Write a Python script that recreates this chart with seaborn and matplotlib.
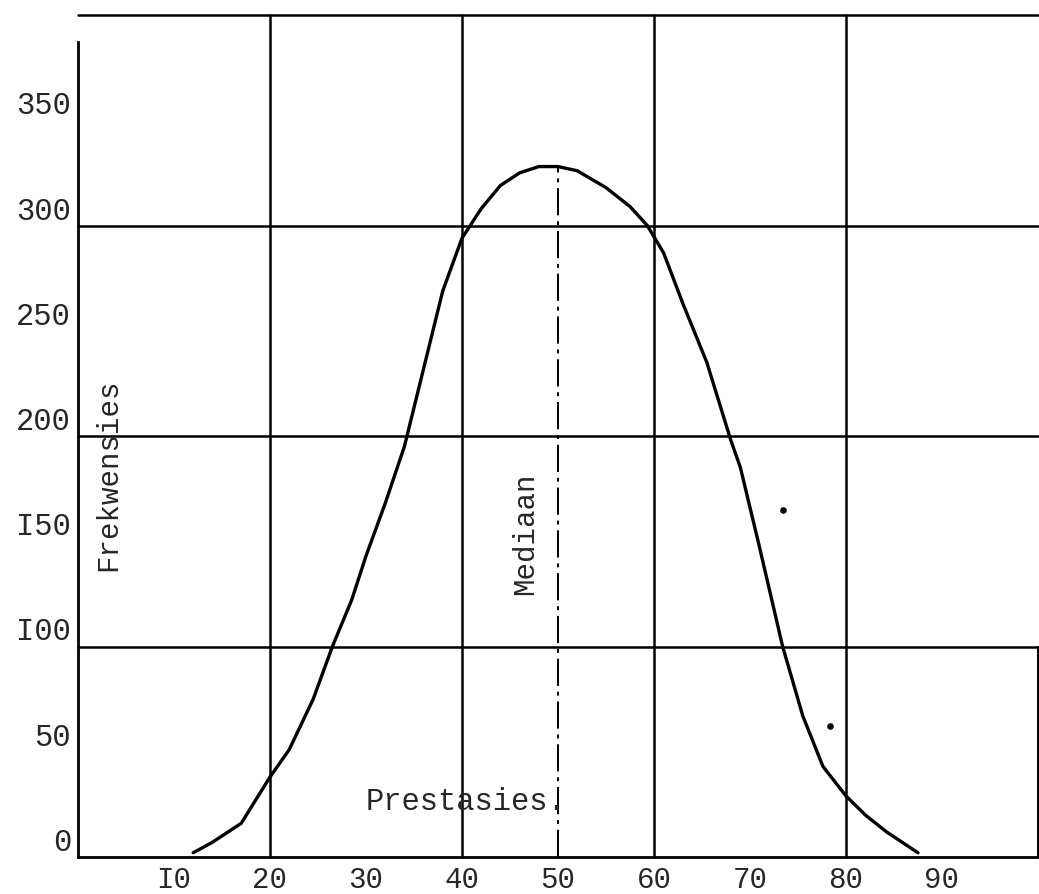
import matplotlib; matplotlib.use('Agg')
import matplotlib.pyplot as plt
import seaborn as sns
import pandas as pd

# curve (Prestasies vs Frekwensies)
prestasie = [12, 14, 17, 20, 22, 24.5, 26.5, 28.5, 30, 32, 34, 36, 38, 40, 41, 42, 44, 46, 48,
             50, 52, 55, 57.5, 59.3, 61, 63, 65.5, 68, 69, 71, 73.4, 75.5, 77.6, 80, 82, 84.2, 87.5]
frekwensie = [2, 7, 16, 38, 51, 75, 100, 122, 143, 168, 195, 232, 269, 294, 301, 308, 319, 325, 328,
              328, 326, 318, 309, 300, 287, 263, 235, 198, 185, 147, 100, 67, 43, 29, 20, 12, 2]
dots_x = [73.4, 78.3]
dots_y = [165, 62]
mediaan = 50
mediaan_top = 328

x_ticks = [10, 20, 30, 40, 50, 60, 70, 80, 90]
x_labels = ["I0", "20", "30", "40", "50", "60", "70", "80", "90"]
y_ticks = [0, 50, 100, 150, 200, 250, 300, 350]
y_labels = ["0", "50", "I00", "I50", "200", "250", "300", "350"]
h_grid = [100, 200, 300, 400]
v_grid = [20, 40, 60, 80]

df = pd.DataFrame({"Prestasies": prestasie, "Frekwensies": frekwensie})

sns.set_theme(style="white")
plt.rcParams['font.family'] = ['Liberation Mono', 'DejaVu Sans Mono']

fig = plt.figure(figsize=(10.39, 8.95), dpi=100)
ax = fig.add_axes([78 / 1039, 37 / 895, 960 / 1039, 842 / 895])

for v in h_grid:
    ax.axhline(v, color="black", lw=1.8, zorder=1, clip_on=False)
for v in v_grid:
    ax.plot([v, v], [0, 400], color="black", lw=1.8, zorder=1, clip_on=False)

# mediaan
ax.plot([mediaan, mediaan], [0, mediaan_top], color="black", lw=1.4,
        linestyle=(0, (14, 3, 2, 3)), zorder=1)

sns.lineplot(data=df, x="Prestasies", y="Frekwensies", ax=ax, color="black", lw=2.4,
             sort=False, zorder=3)
ax.scatter(dots_x, dots_y, s=14, color="black", zorder=3)

ax.set_xlim(0, 100)
ax.set_ylim(0, 400)
ax.set_xticks(x_ticks)
ax.set_xticklabels(x_labels, fontsize=21)
ax.set_yticks(y_ticks)
ax.set_yticklabels(y_labels, fontsize=22)
ax.tick_params(axis="x", direction="inout", length=12, width=1.6, pad=0, color="black")
ax.tick_params(axis="y", length=0, pad=5)
for lab in ax.get_yticklabels():
    lab.set_verticalalignment("bottom")
ax.set_xlabel("")
ax.set_ylabel("")

for side in ["left", "bottom", "right"]:
    ax.spines[side].set_color("black")
    ax.spines[side].set_linewidth(2)
ax.spines["top"].set_visible(False)
ax.spines["left"].set_bounds(0, 387)
ax.spines["right"].set_bounds(0, 100)
ax.spines["right"].set_linewidth(1.4)

ax.text(30, 23, "Prestasies.", fontsize=22, ha="left", va="baseline")
ax.text(3.1, 182, "Frekwensies", fontsize=21, rotation=90, ha="center", va="center")
ax.text(46.6, 154, "Mediaan", fontsize=21, rotation=90, ha="center", va="center")

fig.savefig("out.png", dpi=100)
